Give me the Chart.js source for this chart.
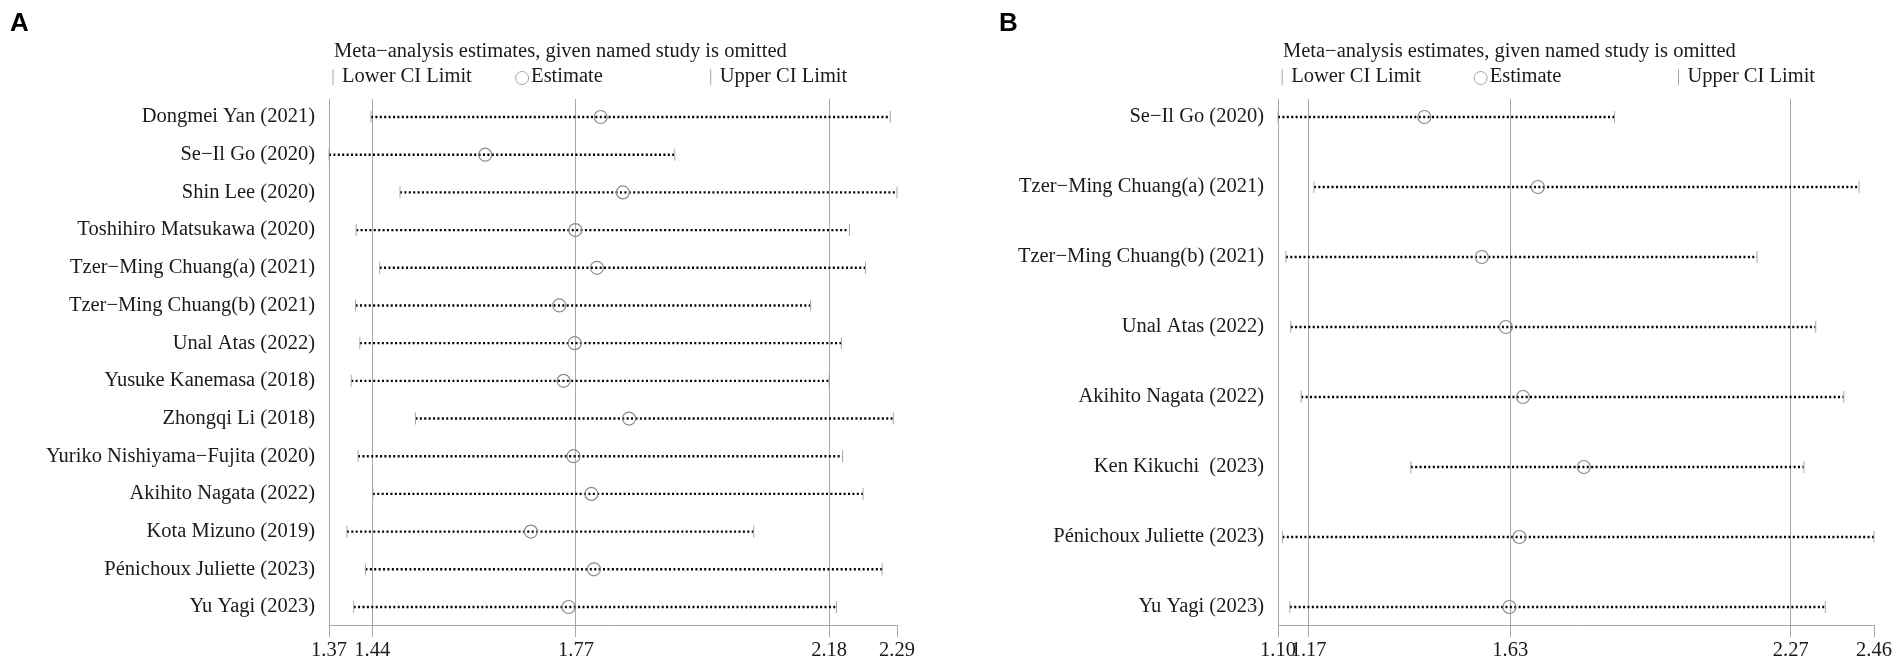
<!DOCTYPE html>
<html>
<head>
<meta charset="utf-8">
<title>Sensitivity analysis</title>
<script src="https://cdn.jsdelivr.net/npm/chart.js@4.4.1/dist/chart.umd.min.js"></script>
<style>
  html, body { margin: 0; padding: 0; background: #fff; }
  #wrap { position: relative; width: 1902px; height: 663px; overflow: hidden; }
  canvas { position: absolute; top: 0; }
  .tag { position: absolute; top: 7px; font: bold 26px "Liberation Sans", Arial, sans-serif; color: #000; z-index: 2; }
</style>
</head>
<body>
<div id="wrap">
  <canvas id="panelA" width="951" height="663" style="left:0"></canvas>
  <canvas id="panelB" width="951" height="663" style="left:951px"></canvas>
  <div class="tag" style="left:10px">A</div>
  <div class="tag" style="left:999px">B</div>
</div>
<script>
// Panel A - study omitted, lower CI, estimate, upper CI
const namesA = [
  'Dongmei Yan (2021)', 'Se−Il Go (2020)', 'Shin Lee (2020)', 'Toshihiro Matsukawa (2020)',
  'Tzer−Ming Chuang(a) (2021)', 'Tzer−Ming Chuang(b) (2021)', 'Unal Atas (2022)',
  'Yusuke Kanemasa (2018)', 'Zhongqi Li (2018)', 'Yuriko Nishiyama−Fujita (2020)',
  'Akihito Nagata (2022)', 'Kota Mizuno (2019)', 'Pénichoux Juliette (2023)', 'Yu Yagi (2023)'
];
const lowerA = [1.438, 1.370, 1.485, 1.414, 1.452, 1.413, 1.420, 1.406, 1.510, 1.417, 1.441, 1.399, 1.429, 1.410];
const estA   = [1.810, 1.623, 1.846, 1.769, 1.804, 1.743, 1.768, 1.750, 1.856, 1.766, 1.795, 1.697, 1.799, 1.758];
const upperA = [2.279, 1.930, 2.290, 2.213, 2.239, 2.150, 2.200, 2.180, 2.284, 2.202, 2.235, 2.058, 2.266, 2.192];
const ticksA = [1.37, 1.44, 1.77, 2.18, 2.29];

// Panel B
const namesB = [
  'Se−Il Go (2020)', 'Tzer−Ming Chuang(a) (2021)', 'Tzer−Ming Chuang(b) (2021)', 'Unal Atas (2022)',
  'Akihito Nagata (2022)', 'Ken Kikuchi  (2023)', 'Pénichoux Juliette (2023)', 'Yu Yagi (2023)'
];
const lowerB = [1.100, 1.182, 1.118, 1.129, 1.153, 1.403, 1.110, 1.127];
const estB   = [1.434, 1.693, 1.565, 1.620, 1.659, 1.798, 1.651, 1.628];
const upperB = [1.868, 2.426, 2.193, 2.327, 2.391, 2.300, 2.460, 2.349];
const ticksB = [1.10, 1.17, 1.63, 2.27, 2.46];

const serif = '"Liberation Serif", "Times New Roman", serif';
const textColor = '#1a1a1a';
const lineGray = '#a8a8a8';

// title + legend row above the plot area
const header = {
  id: 'header',
  afterDraw(chart) {
    const ctx = chart.ctx;
    const a = chart.chartArea;
    const w = a.right - a.left;
    ctx.save();
    ctx.font = '20.5px ' + serif;
    ctx.fillStyle = textColor;
    ctx.textBaseline = 'middle';
    ctx.fillText('Meta−analysis estimates, given named study is omitted', a.left + 5, 52);
    const y = 77;
    const items = [[0.007, 'bar', 'Lower CI Limit'], [0.34, 'circle', 'Estimate'], [0.672, 'bar', 'Upper CI Limit']];
    items.forEach(([f, sym, txt]) => {
      const x = a.left + f * w;
      ctx.strokeStyle = lineGray;
      ctx.lineWidth = 1;
      ctx.beginPath();
      if (sym === 'bar') {
        ctx.moveTo(x, y - 8);
        ctx.lineTo(x, y + 8);
      } else {
        ctx.arc(x, y + 1, 6.5, 0, Math.PI * 2);
      }
      ctx.stroke();
      ctx.fillText(txt, x + 9, y);
    });
    ctx.restore();
  }
};

function buildPanel(id, names, lower, est, upper, ticks, rowPad, leftW, rightPad) {
  const xMax = ticks[ticks.length - 1];

  // one dotted segment per study
  const segs = names.map((n, i) => ({
    data: [{ x: lower[i], y: i }, { x: upper[i], y: i }],
    showLine: true,
    borderColor: '#000',
    borderWidth: 2.4,
    borderDash: [2, 2.4],
    pointRadius: 0,
    clip: false,
    order: 2
  }));

  const ends = {
    data: names.flatMap((n, i) => [{ x: lower[i], y: i }, { x: upper[i], y: i }]),
    pointStyle: 'line',
    pointRotation: 90,
    pointRadius: 6,
    pointBorderColor: lineGray,
    pointBorderWidth: 1,
    clip: false,
    order: 1
  };

  const dots = {
    data: names.map((n, i) => ({ x: est[i], y: i })),
    pointStyle: 'circle',
    pointRadius: 6.5,
    pointBorderColor: '#8a8a8a',
    pointBorderWidth: 1.2,
    pointBackgroundColor: 'rgba(0,0,0,0)',
    clip: false,
    order: 0
  };

  return new Chart(document.getElementById(id), {
    type: 'scatter',
    data: { datasets: [...segs, ends, dots] },
    options: {
      responsive: false,
      animation: false,
      devicePixelRatio: 1,
      layout: { padding: { top: 99, right: rightPad, bottom: 0, left: 0 } },
      plugins: { legend: { display: false }, tooltip: { enabled: false } },
      events: [],
      scales: {
        x: {
          type: 'linear',
          min: ticks[0],
          max: xMax,
          afterBuildTicks: s => { s.ticks = ticks.map(v => ({ value: v })); },
          afterFit: s => { s.height = 38; },
          ticks: {
            autoSkip: false, maxRotation: 0, minRotation: 0, padding: 1,
            color: textColor, font: { family: serif, size: 20.5 },
            callback: v => Number(v).toFixed(2)
          },
          grid: {
            color: c => (c.tick && c.tick.value === xMax) ? 'rgba(0,0,0,0)' : lineGray,
            tickColor: lineGray,
            tickLength: 12,
            lineWidth: 1
          },
          border: { color: lineGray, width: 1 }
        },
        y: {
          type: 'linear',
          reverse: true,
          min: -rowPad,
          max: names.length - 1 + rowPad,
          afterBuildTicks: s => { s.ticks = names.map((n, i) => ({ value: i })); },
          afterFit: s => { s.width = leftW; },
          ticks: {
            autoSkip: false, padding: 14,
            color: textColor, font: { family: serif, size: 20.5 },
            callback: v => names[v]
          },
          grid: { display: false, drawTicks: false },
          border: { display: false }
        }
      }
    },
    plugins: [header]
  });
}

buildPanel('panelA', namesA, lowerA, estA, upperA, ticksA, 0.478, 329, 54);
buildPanel('panelB', namesB, lowerB, estB, upperB, ticksB, 0.257, 327, 28);
</script>
</body>
</html>
